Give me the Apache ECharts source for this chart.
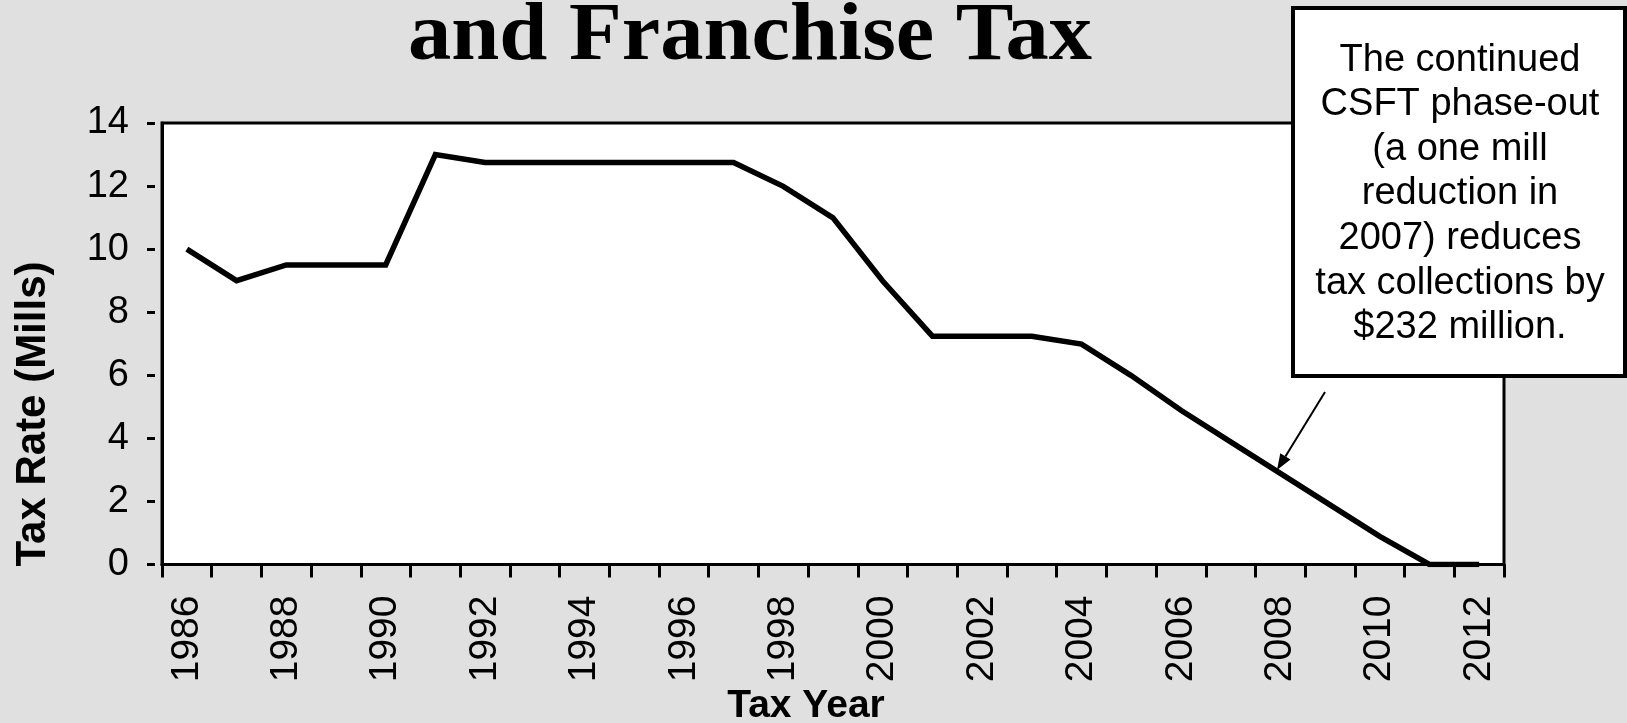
<!DOCTYPE html>
<html>
<head>
<meta charset="utf-8">
<script src="https://cdn.jsdelivr.net/npm/echarts@6/dist/echarts.min.js"></script>
<style>
html,body{margin:0;padding:0;background:#e0e0e0;}
#chart{width:1627px;height:723px;}
</style>
</head>
<body>
<div id="chart"></div>
<script>
var years = ['1986','1987','1988','1989','1990','1991','1992','1993','1994','1995','1996','1997','1998','1999','2000','2001','2002','2003','2004','2005','2006','2007','2008','2009','2010','2011','2012'];
var rates = [10.0, 9.0, 9.5, 9.5, 9.5, 13.0, 12.75, 12.75, 12.75, 12.75, 12.75, 12.75, 11.99, 10.99, 8.99, 7.24, 7.24, 7.24, 6.99, 5.99, 4.89, 3.89, 2.89, 1.89, 0.89, 0, 0];
var titleText = 'and Franchise Tax';
var xName = 'Tax Year';
var yName = 'Tax Rate (Mills)';
var noteLines = ['The continued', 'CSFT phase-out', '(a one mill', 'reduction in', '2007) reduces', 'tax collections by', '$232 million.'];

var SANS = "'Liberation Sans', Arial, sans-serif";
var SERIF = "'Liberation Serif', 'Times New Roman', serif";

var chart = echarts.init(document.getElementById('chart'));
chart.setOption({
  animation: false,
  backgroundColor: '#e0e0e0',
  grid: {
    left: 162, top: 123, width: 1342, height: 441.5,
    show: true, backgroundColor: '#ffffff', borderColor: '#000', borderWidth: 3
  },
  xAxis: {
    type: 'category',
    data: years,
    boundaryGap: true,
    axisLine: { lineStyle: { color: '#000', width: 3 } },
    axisTick: { show: true, interval: 0, length: 13, lineStyle: { color: '#000', width: 3 } },
    axisLabel: { interval: 1, rotate: 90, fontSize: 39, color: '#000', fontFamily: SANS, margin: 31 },
    splitLine: { show: false }
  },
  yAxis: {
    type: 'value',
    min: 0, max: 14, interval: 2,
    axisLine: { show: true, lineStyle: { color: '#000', width: 3 } },
    axisTick: { show: true, length: 15, lineStyle: { color: '#000', width: 3, type: [0, 7, 8, 40] } },
    axisLabel: { fontSize: 38, color: '#000', fontFamily: SANS, margin: 33 },
    splitLine: { show: false }
  },
  series: [{
    type: 'line',
    data: rates,
    symbol: 'none',
    lineStyle: { color: '#000', width: 5.5, join: 'miter' },
    z: 5
  }],
  graphic: [
    { type: 'text', z: 10, x: 750, y: 38, scaleX: 1.055, style: { text: titleText, x: 0, y: 0, align: 'center', verticalAlign: 'middle', font: 'bold 82px ' + SERIF, fill: '#000' } },
    { type: 'text', z: 10, style: { text: xName, x: 806, y: 706, align: 'center', verticalAlign: 'middle', font: 'bold 39px ' + SANS, fill: '#000' } },
    { type: 'text', z: 10, x: 33, y: 414, rotation: Math.PI / 2, style: { text: yName, x: 0, y: 0, align: 'center', verticalAlign: 'middle', font: 'bold 42px ' + SANS, fill: '#000' } },
    { type: 'rect', z: 20, shape: { x: 1293, y: 8, width: 332, height: 368 }, style: { fill: '#ffffff', stroke: '#000', lineWidth: 4 } },
    { type: 'text', z: 21, style: { text: noteLines.join('\n'), x: 1460, y: 194, align: 'center', verticalAlign: 'middle', font: '38px ' + SANS, lineHeight: 44.6, fill: '#000' } },
    { type: 'line', z: 21, shape: { x1: 1325, y1: 392, x2: 1285.4, y2: 456.4 }, style: { stroke: '#000', lineWidth: 2 } },
    { type: 'polygon', z: 21, shape: { points: [[1277, 470], [1290.5, 459.5], [1280.3, 453.3]] }, style: { fill: '#000' } }
  ]
});
</script>
</body>
</html>
